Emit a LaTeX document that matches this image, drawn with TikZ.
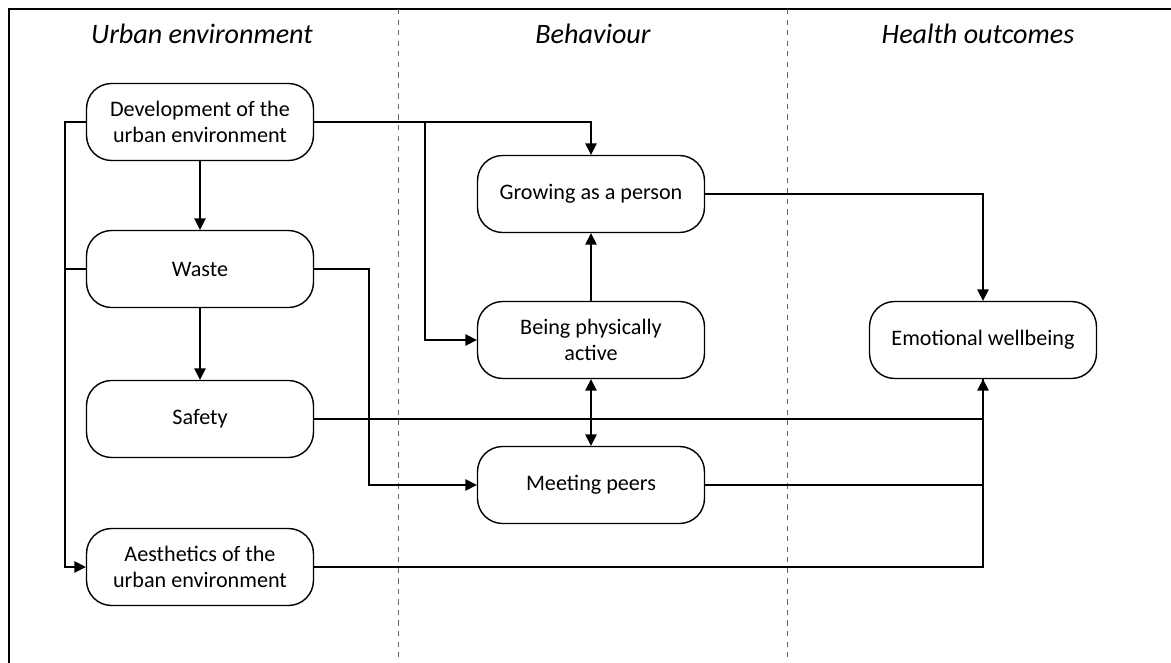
\documentclass[tikz,border=0pt]{standalone}
\usepackage{fontspec}
\setmainfont{Carlito}
\usetikzlibrary{arrows.meta}
\usetikzlibrary{calc}

\begin{document}
\begin{tikzpicture}[x=0.02cm, y=-0.02cm, line width=0.8pt,
  >={Triangle[length=6.5pt,width=6.5pt]},
  box/.style={draw, rounded corners=0.5cm, minimum width=4.54cm,
    minimum height=1.54cm, align=center, font=\fontsize{12.6}{14.5}\selectfont},
  header/.style={font=\fontsize{16}{19}\selectfont\itshape},
  lane/.style={dashed, line width=0.4pt, gray!80!black}]
  \useasboundingbox (0,0) rectangle (1171,663);
  % frame and lanes
  \draw[line width=1.2pt] (9,663) -- (9,9) -- (1171,9);
  \draw[lane] (398,9) -- (398,663);
  \draw[lane] (787,9) -- (787,663);
  \node[header] (h1) at (202,34) {Urban environment};
  \node[header] (h2) at (593,34) {Behaviour};
  \node[header] (h3) at (978,34) {Health outcomes};
  % boxes
  \node[box] (dev) at (200,122) {Development of the\\urban environment};
  \node[box] (waste) at (200,269) {Waste};
  \node[box] (safe) at (200,419) {Safety};
  \node[box] (aes) at (200,567) {Aesthetics of the\\urban environment};
  \node[box] (grow) at (591,194) {Growing as a person};
  \node[box] (act) at (591,340) {Being physically\\active};
  \node[box] (meet) at (591,485) {Meeting peers};
  \node[box] (emo) at (983,340) {Emotional wellbeing};
  \coordinate (bus) at (65,0);
  \coordinate (jn) at (425,122);
  \coordinate (wbend) at (369,0);
  % connectors
  \foreach \from/\to in {dev/waste, waste/safe}
   \draw[->] (\from.south) -- (\to.north);
  \draw[->] (act.north) -- (grow.south);
  \draw[<->] (act.south) -- (meet.north);
  \draw[->] (dev.east) -| (grow.north);
  \draw[->] (jn) |- (act.west);
  \draw[->] (dev.west) -- (dev.west -| bus) |- (aes.west);
  \draw (waste.west) -- (waste.west -| bus);
  \draw[->] (waste.east) -- (waste.east -| wbend) |- (meet.west);
  \draw[->] (grow.east) -| (emo.north);
  \draw (aes.east) -| (emo.south);
  \draw (meet.east) -- (meet.east -| emo.south);
  \draw[->] (safe.east) -| (emo.south);
\end{tikzpicture}
\end{document}
